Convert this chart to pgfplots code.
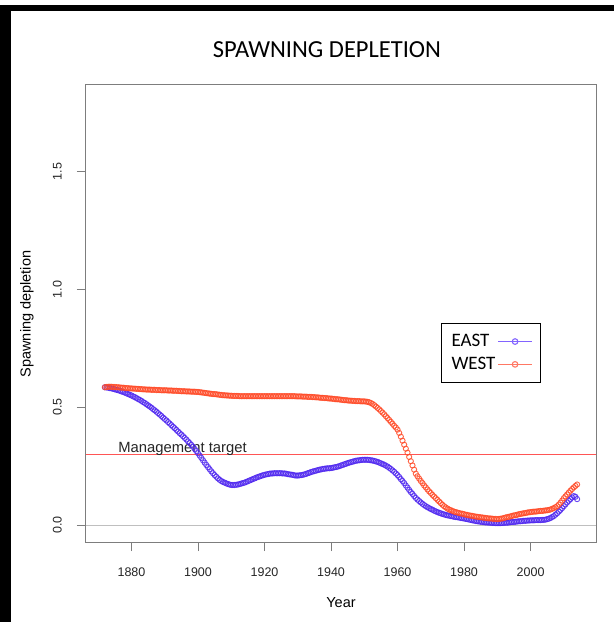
\documentclass[border=0pt]{standalone}
\usepackage{pgfplots}
\pgfplotsset{compat=1.18}
\usepackage{pgfplotstable}
\usepackage{fontspec}
\setmainfont{Liberation Sans}
\newfontfamily\calibri{Carlito}
\definecolor{eastblue}{RGB}{80,40,240}
\definecolor{westred}{RGB}{255,75,40}
\definecolor{legblue}{RGB}{130,100,255}
\definecolor{legred}{RGB}{255,120,100}
\definecolor{boxgray}{RGB}{125,125,125}
\definecolor{targetred}{RGB}{255,85,85}

\pgfplotstableread[row sep=\\]{
x y\\
1872.0 0.585\\ 1872.5 0.584\\ 1873.0 0.583\\ 1873.5 0.581\\ 1874.0 0.580\\ 1874.5 0.578\\ 1875.0 0.576\\ 1875.5 0.574\\
1876.0 0.572\\ 1876.5 0.570\\ 1877.0 0.567\\ 1877.5 0.565\\ 1878.0 0.562\\ 1878.5 0.559\\ 1879.0 0.556\\ 1879.5 0.553\\
1880.0 0.550\\ 1880.5 0.546\\ 1881.0 0.543\\ 1881.5 0.539\\ 1882.0 0.535\\ 1882.5 0.531\\ 1883.0 0.527\\ 1883.5 0.522\\
1884.0 0.518\\ 1884.5 0.513\\ 1885.0 0.508\\ 1885.5 0.503\\ 1886.0 0.498\\ 1886.5 0.492\\ 1887.0 0.487\\ 1887.5 0.481\\
1888.0 0.475\\ 1888.5 0.469\\ 1889.0 0.463\\ 1889.5 0.456\\ 1890.0 0.450\\ 1890.5 0.444\\ 1891.0 0.437\\ 1891.5 0.431\\
1892.0 0.424\\ 1892.5 0.417\\ 1893.0 0.411\\ 1893.5 0.404\\ 1894.0 0.397\\ 1894.5 0.390\\ 1895.0 0.384\\ 1895.5 0.377\\
1896.0 0.370\\ 1896.5 0.363\\ 1897.0 0.355\\ 1897.5 0.348\\ 1898.0 0.340\\ 1898.5 0.332\\ 1899.0 0.323\\ 1899.5 0.314\\
1900.0 0.305\\ 1900.5 0.295\\ 1901.0 0.285\\ 1901.5 0.275\\ 1902.0 0.265\\ 1902.5 0.255\\ 1903.0 0.246\\ 1903.5 0.237\\
1904.0 0.228\\ 1904.5 0.220\\ 1905.0 0.212\\ 1905.5 0.205\\ 1906.0 0.198\\ 1906.5 0.192\\ 1907.0 0.187\\ 1907.5 0.183\\
1908.0 0.180\\ 1908.5 0.177\\ 1909.0 0.174\\ 1909.5 0.172\\ 1910.0 0.170\\ 1910.5 0.170\\ 1911.0 0.170\\ 1911.5 0.171\\
1912.0 0.172\\ 1912.5 0.174\\ 1913.0 0.176\\ 1913.5 0.178\\ 1914.0 0.180\\ 1914.5 0.183\\ 1915.0 0.186\\ 1915.5 0.189\\
1916.0 0.192\\ 1916.5 0.195\\ 1917.0 0.198\\ 1917.5 0.201\\ 1918.0 0.204\\ 1918.5 0.206\\ 1919.0 0.209\\ 1919.5 0.211\\
1920.0 0.213\\ 1920.5 0.215\\ 1921.0 0.216\\ 1921.5 0.218\\ 1922.0 0.219\\ 1922.5 0.219\\ 1923.0 0.220\\ 1923.5 0.220\\
1924.0 0.220\\ 1924.5 0.220\\ 1925.0 0.220\\ 1925.5 0.219\\ 1926.0 0.219\\ 1926.5 0.218\\ 1927.0 0.216\\ 1927.5 0.215\\
1928.0 0.214\\ 1928.5 0.213\\ 1929.0 0.211\\ 1929.5 0.210\\ 1930.0 0.210\\ 1930.5 0.211\\ 1931.0 0.212\\ 1931.5 0.213\\
1932.0 0.215\\ 1932.5 0.217\\ 1933.0 0.220\\ 1933.5 0.222\\ 1934.0 0.225\\ 1934.5 0.227\\ 1935.0 0.229\\ 1935.5 0.231\\
1936.0 0.233\\ 1936.5 0.235\\ 1937.0 0.236\\ 1937.5 0.238\\ 1938.0 0.239\\ 1938.5 0.240\\ 1939.0 0.241\\ 1939.5 0.241\\
1940.0 0.242\\ 1940.5 0.243\\ 1941.0 0.245\\ 1941.5 0.246\\ 1942.0 0.248\\ 1942.5 0.250\\ 1943.0 0.253\\ 1943.5 0.255\\
1944.0 0.258\\ 1944.5 0.260\\ 1945.0 0.263\\ 1945.5 0.265\\ 1946.0 0.267\\ 1946.5 0.269\\ 1947.0 0.271\\ 1947.5 0.273\\
1948.0 0.274\\ 1948.5 0.275\\ 1949.0 0.276\\ 1949.5 0.277\\ 1950.0 0.277\\ 1950.5 0.277\\ 1951.0 0.277\\ 1951.5 0.276\\
1952.0 0.275\\ 1952.5 0.274\\ 1953.0 0.272\\ 1953.5 0.270\\ 1954.0 0.268\\ 1954.5 0.265\\ 1955.0 0.262\\ 1955.5 0.259\\
1956.0 0.256\\ 1956.5 0.252\\ 1957.0 0.248\\ 1957.5 0.243\\ 1958.0 0.238\\ 1958.5 0.232\\ 1959.0 0.226\\ 1959.5 0.219\\
1960.0 0.212\\ 1960.5 0.204\\ 1961.0 0.195\\ 1961.5 0.187\\ 1962.0 0.178\\ 1962.5 0.168\\ 1963.0 0.159\\ 1963.5 0.149\\
1964.0 0.140\\ 1964.5 0.132\\ 1965.0 0.123\\ 1965.5 0.115\\ 1966.0 0.108\\ 1966.5 0.102\\ 1967.0 0.096\\ 1967.5 0.090\\
1968.0 0.085\\ 1968.5 0.080\\ 1969.0 0.076\\ 1969.5 0.072\\ 1970.0 0.068\\ 1970.5 0.065\\ 1971.0 0.061\\ 1971.5 0.058\\
1972.0 0.055\\ 1972.5 0.052\\ 1973.0 0.050\\ 1973.5 0.047\\ 1974.0 0.045\\ 1974.5 0.043\\ 1975.0 0.041\\ 1975.5 0.040\\
1976.0 0.038\\ 1976.5 0.037\\ 1977.0 0.035\\ 1977.5 0.034\\ 1978.0 0.033\\ 1978.5 0.032\\ 1979.0 0.030\\ 1979.5 0.029\\
1980.0 0.028\\ 1980.5 0.026\\ 1981.0 0.025\\ 1981.5 0.023\\ 1982.0 0.022\\ 1982.5 0.020\\ 1983.0 0.019\\ 1983.5 0.017\\
1984.0 0.016\\ 1984.5 0.015\\ 1985.0 0.014\\ 1985.5 0.013\\ 1986.0 0.012\\ 1986.5 0.011\\ 1987.0 0.011\\ 1987.5 0.010\\
1988.0 0.010\\ 1988.5 0.009\\ 1989.0 0.009\\ 1989.5 0.008\\ 1990.0 0.008\\ 1990.5 0.008\\ 1991.0 0.008\\ 1991.5 0.009\\
1992.0 0.009\\ 1992.5 0.010\\ 1993.0 0.010\\ 1993.5 0.011\\ 1994.0 0.012\\ 1994.5 0.013\\ 1995.0 0.013\\ 1995.5 0.014\\
1996.0 0.015\\ 1996.5 0.016\\ 1997.0 0.016\\ 1997.5 0.017\\ 1998.0 0.018\\ 1998.5 0.018\\ 1999.0 0.019\\ 1999.5 0.019\\
2000.0 0.020\\ 2000.5 0.020\\ 2001.0 0.020\\ 2001.5 0.021\\ 2002.0 0.021\\ 2002.5 0.021\\ 2003.0 0.021\\ 2003.5 0.022\\
2004.0 0.022\\ 2004.5 0.023\\ 2005.0 0.025\\ 2005.5 0.027\\ 2006.0 0.030\\ 2006.5 0.034\\ 2007.0 0.038\\ 2007.5 0.044\\
2008.0 0.050\\ 2008.5 0.057\\ 2009.0 0.064\\ 2009.5 0.072\\ 2010.0 0.080\\ 2010.5 0.088\\ 2011.0 0.096\\ 2011.5 0.103\\
2012.0 0.110\\ 2012.5 0.117\\ 2013.0 0.123\\ 2013.5 0.120\\ 2014.0 0.110\\
}\eastdata

\pgfplotstableread[row sep=\\]{
x y\\
1872.0 0.585\\ 1872.5 0.586\\ 1873.0 0.587\\ 1873.5 0.587\\ 1874.0 0.587\\ 1874.5 0.586\\ 1875.0 0.586\\ 1875.5 0.585\\
1876.0 0.585\\ 1876.5 0.584\\ 1877.0 0.583\\ 1877.5 0.583\\ 1878.0 0.582\\ 1878.5 0.581\\ 1879.0 0.581\\ 1879.5 0.580\\
1880.0 0.580\\ 1880.5 0.579\\ 1881.0 0.579\\ 1881.5 0.578\\ 1882.0 0.578\\ 1882.5 0.577\\ 1883.0 0.577\\ 1883.5 0.576\\
1884.0 0.576\\ 1884.5 0.575\\ 1885.0 0.575\\ 1885.5 0.575\\ 1886.0 0.574\\ 1886.5 0.574\\ 1887.0 0.574\\ 1887.5 0.573\\
1888.0 0.573\\ 1888.5 0.573\\ 1889.0 0.572\\ 1889.5 0.572\\ 1890.0 0.572\\ 1890.5 0.572\\ 1891.0 0.571\\ 1891.5 0.571\\
1892.0 0.571\\ 1892.5 0.570\\ 1893.0 0.570\\ 1893.5 0.570\\ 1894.0 0.569\\ 1894.5 0.569\\ 1895.0 0.568\\ 1895.5 0.568\\
1896.0 0.568\\ 1896.5 0.567\\ 1897.0 0.567\\ 1897.5 0.567\\ 1898.0 0.566\\ 1898.5 0.566\\ 1899.0 0.566\\ 1899.5 0.565\\
1900.0 0.565\\ 1900.5 0.564\\ 1901.0 0.563\\ 1901.5 0.562\\ 1902.0 0.561\\ 1902.5 0.560\\ 1903.0 0.559\\ 1903.5 0.558\\
1904.0 0.557\\ 1904.5 0.556\\ 1905.0 0.556\\ 1905.5 0.555\\ 1906.0 0.554\\ 1906.5 0.553\\ 1907.0 0.552\\ 1907.5 0.551\\
1908.0 0.551\\ 1908.5 0.550\\ 1909.0 0.550\\ 1909.5 0.549\\ 1910.0 0.549\\ 1910.5 0.548\\ 1911.0 0.548\\ 1911.5 0.548\\
1912.0 0.548\\ 1912.5 0.547\\ 1913.0 0.547\\ 1913.5 0.547\\ 1914.0 0.547\\ 1914.5 0.547\\ 1915.0 0.547\\ 1915.5 0.547\\
1916.0 0.547\\ 1916.5 0.547\\ 1917.0 0.547\\ 1917.5 0.547\\ 1918.0 0.547\\ 1918.5 0.547\\ 1919.0 0.547\\ 1919.5 0.547\\
1920.0 0.547\\ 1920.5 0.547\\ 1921.0 0.547\\ 1921.5 0.547\\ 1922.0 0.547\\ 1922.5 0.547\\ 1923.0 0.547\\ 1923.5 0.547\\
1924.0 0.547\\ 1924.5 0.547\\ 1925.0 0.547\\ 1925.5 0.547\\ 1926.0 0.547\\ 1926.5 0.547\\ 1927.0 0.547\\ 1927.5 0.547\\
1928.0 0.547\\ 1928.5 0.547\\ 1929.0 0.547\\ 1929.5 0.546\\ 1930.0 0.546\\ 1930.5 0.546\\ 1931.0 0.546\\ 1931.5 0.545\\
1932.0 0.545\\ 1932.5 0.545\\ 1933.0 0.544\\ 1933.5 0.544\\ 1934.0 0.544\\ 1934.5 0.543\\ 1935.0 0.543\\ 1935.5 0.542\\
1936.0 0.542\\ 1936.5 0.541\\ 1937.0 0.540\\ 1937.5 0.540\\ 1938.0 0.539\\ 1938.5 0.539\\ 1939.0 0.538\\ 1939.5 0.537\\
1940.0 0.537\\ 1940.5 0.536\\ 1941.0 0.535\\ 1941.5 0.534\\ 1942.0 0.534\\ 1942.5 0.533\\ 1943.0 0.532\\ 1943.5 0.531\\
1944.0 0.530\\ 1944.5 0.530\\ 1945.0 0.529\\ 1945.5 0.528\\ 1946.0 0.528\\ 1946.5 0.527\\ 1947.0 0.527\\ 1947.5 0.526\\
1948.0 0.526\\ 1948.5 0.526\\ 1949.0 0.525\\ 1949.5 0.525\\ 1950.0 0.525\\ 1950.5 0.524\\ 1951.0 0.523\\ 1951.5 0.521\\
1952.0 0.518\\ 1952.5 0.514\\ 1953.0 0.509\\ 1953.5 0.503\\ 1954.0 0.497\\ 1954.5 0.491\\ 1955.0 0.484\\ 1955.5 0.477\\
1956.0 0.470\\ 1956.5 0.462\\ 1957.0 0.454\\ 1957.5 0.446\\ 1958.0 0.438\\ 1958.5 0.430\\ 1959.0 0.421\\ 1959.5 0.414\\
1960.0 0.405\\ 1960.5 0.391\\ 1961.0 0.375\\ 1961.5 0.358\\ 1962.0 0.341\\ 1962.5 0.324\\ 1963.0 0.307\\ 1963.5 0.289\\
1964.0 0.271\\ 1964.5 0.253\\ 1965.0 0.235\\ 1965.5 0.218\\ 1966.0 0.207\\ 1966.5 0.197\\ 1967.0 0.187\\ 1967.5 0.178\\
1968.0 0.168\\ 1968.5 0.160\\ 1969.0 0.151\\ 1969.5 0.143\\ 1970.0 0.136\\ 1970.5 0.128\\ 1971.0 0.121\\ 1971.5 0.114\\
1972.0 0.107\\ 1972.5 0.100\\ 1973.0 0.093\\ 1973.5 0.086\\ 1974.0 0.080\\ 1974.5 0.075\\ 1975.0 0.070\\ 1975.5 0.066\\
1976.0 0.063\\ 1976.5 0.060\\ 1977.0 0.057\\ 1977.5 0.055\\ 1978.0 0.053\\ 1978.5 0.051\\ 1979.0 0.049\\ 1979.5 0.048\\
1980.0 0.046\\ 1980.5 0.044\\ 1981.0 0.043\\ 1981.5 0.041\\ 1982.0 0.040\\ 1982.5 0.039\\ 1983.0 0.037\\ 1983.5 0.036\\
1984.0 0.035\\ 1984.5 0.034\\ 1985.0 0.033\\ 1985.5 0.032\\ 1986.0 0.031\\ 1986.5 0.030\\ 1987.0 0.029\\ 1987.5 0.028\\
1988.0 0.028\\ 1988.5 0.027\\ 1989.0 0.026\\ 1989.5 0.026\\ 1990.0 0.025\\ 1990.5 0.026\\ 1991.0 0.027\\ 1991.5 0.028\\
1992.0 0.030\\ 1992.5 0.032\\ 1993.0 0.034\\ 1993.5 0.035\\ 1994.0 0.037\\ 1994.5 0.039\\ 1995.0 0.041\\ 1995.5 0.042\\
1996.0 0.044\\ 1996.5 0.046\\ 1997.0 0.047\\ 1997.5 0.049\\ 1998.0 0.050\\ 1998.5 0.051\\ 1999.0 0.053\\ 1999.5 0.054\\
2000.0 0.055\\ 2000.5 0.056\\ 2001.0 0.057\\ 2001.5 0.057\\ 2002.0 0.058\\ 2002.5 0.059\\ 2003.0 0.060\\ 2003.5 0.060\\
2004.0 0.061\\ 2004.5 0.062\\ 2005.0 0.063\\ 2005.5 0.064\\ 2006.0 0.066\\ 2006.5 0.069\\ 2007.0 0.072\\ 2007.5 0.076\\
2008.0 0.080\\ 2008.5 0.087\\ 2009.0 0.095\\ 2009.5 0.104\\ 2010.0 0.114\\ 2010.5 0.122\\ 2011.0 0.130\\ 2011.5 0.138\\
2012.0 0.146\\ 2012.5 0.153\\ 2013.0 0.160\\ 2013.5 0.166\\ 2014.0 0.172\\
}\westdata

\begin{document}
\begin{tikzpicture}
\fill[white] (0pt,0pt) rectangle (614pt,-622pt);
\useasboundingbox (0pt,0pt) rectangle (614pt,-622pt);
% black frame (top and left)
\fill[black] (0pt,-5pt) rectangle (614pt,-11pt);
\fill[black] (0pt,-5pt) rectangle (11pt,-622pt);
% title
\node[font=\calibri\fontsize{24.5}{28}\selectfont] at (327pt,-50pt) {SPAWNING DEPLETION};
% axis labels
\node[font=\fontsize{14.5}{17}\selectfont] at (341pt,-603pt) {Year};
\node[rotate=90, font=\fontsize{14.5}{17}\selectfont] at (27pt,-314pt) {Spawning depletion};
\begin{axis}[
  at={(86pt,-542pt)}, anchor=south west,
  scale only axis, width=510pt, height=458pt,
  xmin=1866.32, xmax=2019.68,
  ymin=-0.072, ymax=1.872,
  xtick={1880,1900,1920,1940,1960,1980,2000},
  ytick={0,0.5,1,1.5},
  yticklabels={0.0,0.5,1.0,1.5},
  xticklabel={\pgfmathprintnumber[1000 sep={},assume math mode=true]{\tick}},
  xtick pos=bottom, ytick pos=left,
  tick align=outside, major tick length=9pt,
  axis line style={boxgray, line width=1pt},
  tick style={boxgray, line width=1pt},
  tick label style={font=\fontsize{12.5}{15}\selectfont, text=black!85},
  xticklabel style={anchor=north, inner sep=0pt, yshift=-17pt},
  yticklabel style={rotate=90, anchor=south, inner sep=0pt, yshift=15pt},
  clip=false,
  legend plot pos=right,
  legend cell align=left,
  legend image code/.code={\draw[#1, mark repeat=2, mark phase=2] plot coordinates {(0pt,0pt) (17pt,0pt) (34pt,0pt)};},
  legend style={at={(0.696,0.478)}, anchor=north west, draw=black, line width=1.1pt,
    font=\calibri\fontsize{19}{23}\selectfont, inner xsep=8pt, inner ysep=9pt,
    row sep=5pt, /tikz/every even column/.append style={column sep=15pt}},
]
\addplot[lightgray, line width=1pt, forget plot] coordinates {(1866.32,0) (2019.68,0)};
\addplot[targetred, line width=1pt, forget plot] coordinates {(1866.32,0.3) (2019.68,0.3)};
\node[anchor=base west, font=\fontsize{14.8}{17}\selectfont, text=black!85, inner sep=0pt] at (axis cs:1876,0.306) {Management target};
\addplot[only marks, mark=o, mark size=2.6pt, color=eastblue, mark options={line width=0.9pt, draw opacity=0.85}, forget plot] table[x=x,y=y] {\eastdata};
\addplot[only marks, mark=o, mark size=2.6pt, color=westred, mark options={line width=0.9pt, draw opacity=0.85}, forget plot] table[x=x,y=y] {\westdata};
\addlegendimage{draw=legblue, color=legblue, line width=1.4pt, mark=o, mark size=2.8pt, mark options={line width=1.1pt, draw=legblue}}
\addlegendentry{EAST}
\addlegendimage{draw=legred, color=legred, line width=1.4pt, mark=o, mark size=2.8pt, mark options={line width=1.1pt, draw=legred}}
\addlegendentry{WEST}
\end{axis}
\end{tikzpicture}
\end{document}
